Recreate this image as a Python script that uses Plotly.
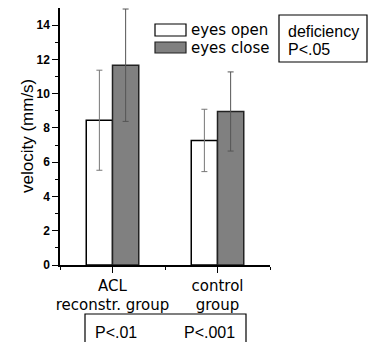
import plotly.graph_objects as go

groups = [1, 2]
group_labels = ["ACL<br>reconstr. group", "control<br>group"]
open_vals = [8.45, 7.27]
open_err = [2.92, 1.82]
close_vals = [11.66, 8.96]
close_err = [3.28, 2.31]

W, H = 368, 342
L, R, T, B = 60, 98, 8, 77
PW, PH = W - L - R, H - T - B

def px(x):
    return (x - L) / PW

def py(y):
    return (H - B - y) / PH

fig = go.Figure()
fig.add_trace(go.Bar(
    x=groups, y=open_vals, name="eyes open",
    marker=dict(color="white", line=dict(color="black", width=1.5)),
    error_y=dict(type="data", array=open_err, color="#777777", thickness=1, width=3),
))
fig.add_trace(go.Bar(
    x=groups, y=close_vals, name="eyes close",
    marker=dict(color="#808080", line=dict(color="#222222", width=1.5)),
    error_y=dict(type="data", array=close_err, color="#555555", thickness=1, width=3),
))

shapes = []
annotations = []
# legend swatches
shapes.append(dict(type="rect", xref="paper", yref="paper", x0=px(155), x1=px(186), y0=py(36), y1=py(24),
                   fillcolor="white", line=dict(color="black", width=1.2)))
shapes.append(dict(type="rect", xref="paper", yref="paper", x0=px(155), x1=px(186), y0=py(53), y1=py(42),
                   fillcolor="#808080", line=dict(color="#222222", width=1.2)))
for txt, yc in [("eyes open", 30), ("eyes close", 47.5)]:
    annotations.append(dict(text=txt, xref="paper", yref="paper", x=px(189), y=py(yc),
                            xanchor="left", yanchor="middle", showarrow=False,
                            font=dict(family="DejaVu Sans", size=15, color="black")))
# deficiency box
shapes.append(dict(type="rect", xref="paper", yref="paper", x0=px(279), x1=px(367), y0=py(62), y1=py(15),
                   fillcolor="rgba(0,0,0,0)", line=dict(color="black", width=1.2)))
annotations.append(dict(text="deficiency", xref="paper", yref="paper", x=px(286), y=py(31),
                        xanchor="left", yanchor="middle", showarrow=False,
                        font=dict(family="Liberation Sans", size=16, color="black")))
annotations.append(dict(text="P<.05", xref="paper", yref="paper", x=px(286), y=py(49),
                        xanchor="left", yanchor="middle", showarrow=False,
                        font=dict(family="Liberation Sans", size=16, color="black")))
# bottom box
shapes.append(dict(type="rect", xref="paper", yref="paper", x0=px(85), x1=px(246), y0=py(350), y1=py(314),
                   fillcolor="rgba(0,0,0,0)", line=dict(color="black", width=1.2)))
for txt, xl in [("P<.01", 93), ("P<.001", 182)]:
    annotations.append(dict(text=txt, xref="paper", yref="paper", x=px(xl), y=py(332),
                            xanchor="left", yanchor="middle", showarrow=False,
                            font=dict(family="Liberation Sans", size=16, color="black")))
# y-axis title
annotations.append(dict(text="velocity (mm/s)", xref="paper", yref="paper", x=px(27), y=py(136),
                        xanchor="center", yanchor="middle", textangle=-90, showarrow=False,
                        font=dict(family="Liberation Sans", size=17, color="black")))

fig.update_layout(
    width=W, height=H,
    margin=dict(l=L, r=R, t=T, b=B, pad=0),
    paper_bgcolor="white", plot_bgcolor="white",
    barmode="group", bargap=0.5, bargroupgap=0,
    showlegend=False,
    shapes=shapes, annotations=annotations,
    xaxis=dict(range=[0.5, 2.5], tickvals=groups, ticktext=group_labels,
               ticks="outside", ticklen=6, tickwidth=1.2, tickcolor="black",
               showline=True, linecolor="black", linewidth=1.5, showgrid=False, zeroline=False,
               minor=dict(tick0=0.5, dtick=1, ticks="outside", ticklen=3, tickcolor="black", tickwidth=1.2),
               tickfont=dict(family="DejaVu Sans", size=15, color="black")),
    yaxis=dict(range=[0, 15], tickvals=[0, 2, 4, 6, 8, 10, 12, 14],
               ticks="outside", ticklen=6, tickwidth=1.2, tickcolor="black",
               showline=True, linecolor="black", linewidth=1.5, showgrid=False, zeroline=False,
               minor=dict(tickvals=[1, 3, 5, 7, 9, 11, 13], ticks="outside", ticklen=3, tickcolor="black", tickwidth=1.2),
               tickfont=dict(family="Liberation Sans", size=12, color="black", weight="bold")),
)

fig.write_html("out.html")
